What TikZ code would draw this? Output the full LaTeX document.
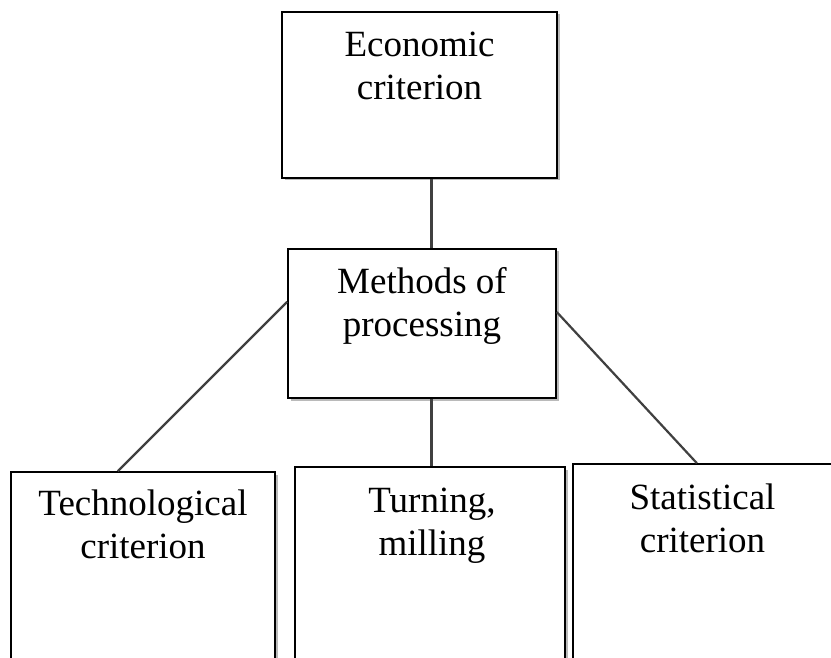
\documentclass[tikz,border=0pt]{standalone}
\usepackage{fontspec}
\setmainfont{Liberation Serif}
\usetikzlibrary{calc,shadows}
\begin{document}
\begin{tikzpicture}[x=1pt,y=-1pt,
  box/.style={draw=black, line width=1.6pt, fill=white, rectangle, inner sep=0pt,
    drop shadow={shadow xshift=2.5pt, shadow yshift=-2.5pt, opacity=0.45, fill=black!60}},
  lbl/.style={align=center, anchor=base, font=\fontsize{37}{43}\selectfont, inner sep=0pt},
  link/.style={draw=black!75, line width=2.2pt}]
\clip (0,0) rectangle (831,658);
\fill[white] (0,0) rectangle (831,658);
\coordinate (cx) at (431.5,0);
% boxes
\node[box, minimum width=275pt, minimum height=166pt] (econ) at (419.5,95) {};
\node[box, minimum width=268pt, minimum height=149pt] (meth) at (422,323.5) {};
\node[box, minimum width=264pt, minimum height=228pt] (tech) at (143,586) {};
\node[box, minimum width=270pt, minimum height=233pt] (turn) at (430,583.5) {};
\node[box, minimum width=262pt, minimum height=236pt] (stat) at (704,582) {};
% connectors
\draw[link] (econ.south -| cx) -- (meth.north -| cx);
\draw[link] (meth.south -| cx) -- (turn.north -| cx);
\draw[link] ($(meth.north west)!0.356!(meth.south west)$) -- ($(tech.north west)!0.405!(tech.north east)$);
\draw[link] ($(meth.north east)!0.424!(meth.south east)$) -- ($(stat.north west)!0.473!(stat.north east)$);
% labels (base = baseline of the last line)
\node[lbl] (econT) at (419.5,100) {Economic\\criterion};
\node[lbl] (methT) at (422,336) {Methods of\\processing};
\node[lbl] (techT) at (143,558) {Technological\\criterion};
\node[lbl] (turnT) at (432,555) {Turning,\\milling};
\node[lbl] (statT) at (702.5,552) {Statistical\\criterion};
\end{tikzpicture}
\end{document}
